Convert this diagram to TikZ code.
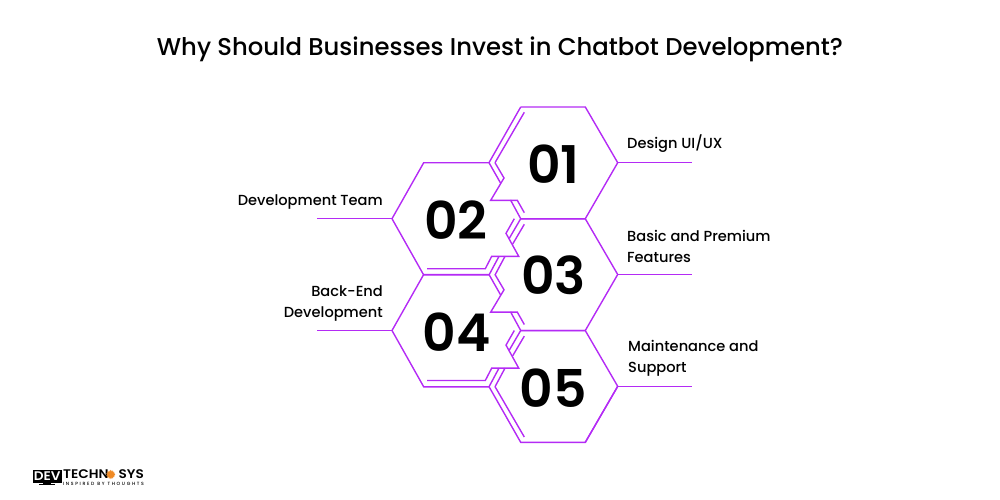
\documentclass[tikz,border=0pt]{standalone}
\usepackage{fontspec}
\setmainfont{Poppins}
\newfontfamily\medfont{Poppins Medium}
\newfontfamily\numfont{Poppins SemiBold}
\newfontfamily\logofont{Poppins SemiBold}[FakeStretch=1.09]
\newfontfamily\tagfont{Poppins Medium}[LetterSpace=36]
\definecolor{hexline}{HTML}{B42BF5}
\definecolor{logogear}{HTML}{F08A24}
\tikzset{
  hexedge/.style={hexline, line width=1.4pt, line join=miter},
  numtext/.style={font=\numfont\fontsize{52}{55}\selectfont, inner sep=0pt},
  titletext/.style={font=\medfont\fontsize{24.3}{30}\selectfont, inner sep=0pt},
  lefttext/.style={font=\medfont\fontsize{14.6}{20.5}\selectfont, align=right, anchor=east, inner sep=0pt},
  righttext/.style={font=\medfont\fontsize{14.6}{20.5}\selectfont, align=left, anchor=west, inner sep=0pt},
  logotext/.style={font=\logofont\fontsize{12.5}{13}\selectfont, inner sep=0pt}
}
\begin{document}
\begin{tikzpicture}[x=1pt, y=-1pt]
\useasboundingbox (0,0) rectangle (1000,500);
\node[titletext] (title) at (500,49) {Why Should Businesses Invest in Chatbot Development?};

% right hexes
\foreach \n in {0,1,2}{
\begin{scope}[shift={(0,\n*111.8)}]
\draw[hexedge](520.7,107)--(585.3,107)--(617.7,162.7)--(585.3,218.7);
\end{scope}
}
\foreach \n in {0,1}{
\begin{scope}[shift={(0,\n*111.8)}]
\draw[hexedge](585.3,218.7)--(520.7,218.7)--(510.7,200.3)--(490.7,200.3)--(504,178)--(495,162.7);
\draw[hexedge](510.7,200.3)--(517.3,200.3)--(524.3,212.7);
% left hex
\draw[hexedge](500.7,183.3)--(489,162.7)--(423.7,162.7)--(392,218.7)--(423.7,275)--(489,275);
\draw[hexedge](514.3,218.7)--(506,233.3)--(518.7,256.3)--(491.7,256.3)--(485.3,268.7)--(427,268.7);
% next hex, upper side
\draw[hexedge](520.7,218.7)--(509.3,238.3);
\draw[hexedge](524.3,224.3)--(512.7,244);
\draw[hexedge](499,256.3)--(489,275);
\draw[hexedge](505,256.3)--(495,275);
\end{scope}
}
% first hex, upper side
\draw[hexedge](489,162.7)--(520.7,107);
\draw[hexedge](495,162.7)--(524.3,112.3);
% last hex
\draw[hexedge](489,386.6)--(520.7,442.3)--(585.3,442.3)--(617.7,386.4);
\draw[hexedge](495,386.6)--(524.3,437);

\node[numtext] (n1) at (553.3,164) {01};
\node[numtext] (n2) at (455.8,220) {02};
\node[numtext] (n3) at (553.7,275.7) {03};
\node[numtext] (n4) at (456.7,331.7) {04};
\node[numtext] (n5) at (553,387.7) {05};

\coordinate (e1) at (617.7,162.7);
\coordinate (e2) at (392,218.7);
\coordinate (e3) at (617.7,274.5);
\coordinate (e4) at (392,330.5);
\coordinate (e5) at (617.7,386.4);
\coordinate (f1) at (692,162.7);
\coordinate (f2) at (317,218.7);
\coordinate (f3) at (692,274.5);
\coordinate (f4) at (317,330.5);
\coordinate (f5) at (692,386.4);
\foreach \n in {1,...,5}{
\draw[hexedge](e\n)--(f\n);
}

\node[righttext] (t1) at (627,144) {Design UI/UX};
\node[lefttext] (t2) at (383,202) {Development Team};
\node[righttext] (t3) at (627,246.3) {Basic and Premium\\Features};
\node[lefttext] (t4) at (383,303.7) {Back-End\\Development};
\node[righttext] (t5) at (628,358.3) {Maintenance and\\Support};

% logo
\fill[black](32.5,470)rectangle(62,482.5);
\fill[black](43,482.5)rectangle(51,484);
\fill[black](39,484)rectangle(55,485);
\node[logotext, text=white] (logod) at (47.3,476.3) {DEV};
\node[logotext, anchor=west] (logot) at (63,474) {TECHN};
\fill[logogear](110.7,474.5)circle(3.6);
\draw[logogear, line width=1pt, dash pattern=on .9pt off .9pt](110.7,474.5)circle(4);
\node[logotext, anchor=east] (logos) at (144,474) {SYS};
\node[inner sep=0pt, font=\tagfont\fontsize{4.6}{5}\selectfont] (logou) at (103.5,483.6) {INSPIRED BY THOUGHTS};
\end{tikzpicture}
\end{document}
